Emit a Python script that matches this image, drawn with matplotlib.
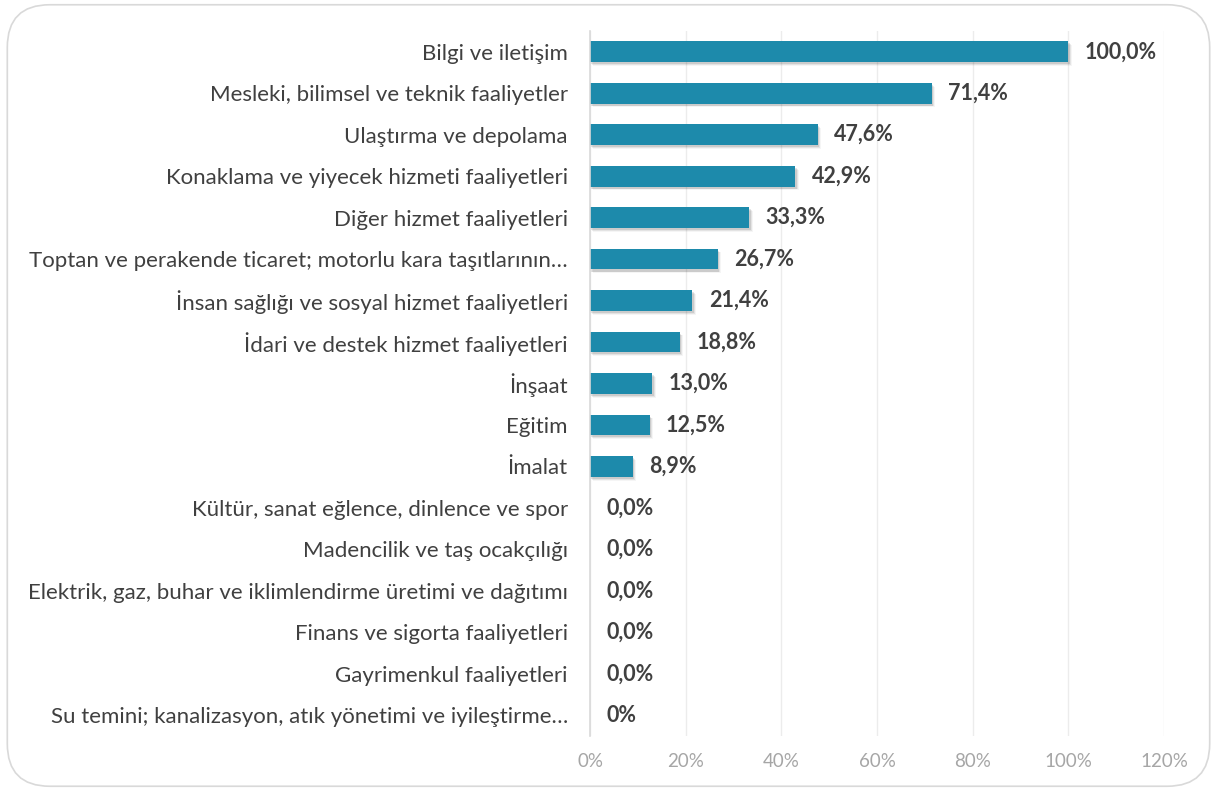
import numpy as np
import matplotlib.pyplot as plt
from matplotlib.patches import FancyBboxPatch

categories = [
    "Bilgi ve iletişim",
    "Mesleki, bilimsel ve teknik faaliyetler",
    "Ulaştırma ve depolama",
    "Konaklama ve yiyecek hizmeti faaliyetleri",
    "Diğer hizmet faaliyetleri",
    "Toptan ve perakende ticaret; motorlu kara taşıtlarının…",
    "İnsan sağlığı ve sosyal hizmet faaliyetleri",
    "İdari ve destek hizmet faaliyetleri",
    "İnşaat",
    "Eğitim",
    "İmalat",
    "Kültür, sanat eğlence, dinlence ve spor",
    "Madencilik ve taş ocakçılığı",
    "Elektrik, gaz, buhar ve iklimlendirme üretimi ve dağıtımı",
    "Finans ve sigorta faaliyetleri",
    "Gayrimenkul faaliyetleri",
    "Su temini; kanalizasyon, atık yönetimi ve iyileştirme…",
]
values = [100.0, 71.4, 47.6, 42.9, 33.3, 26.7, 21.4, 18.8, 13.0, 12.5, 8.9,
          0.0, 0.0, 0.0, 0.0, 0.0, 0.0]
value_labels = ["100,0%", "71,4%", "47,6%", "42,9%", "33,3%", "26,7%", "21,4%",
                "18,8%", "13,0%", "12,5%", "8,9%", "0,0%", "0,0%", "0,0%",
                "0,0%", "0,0%", "0%"]
xticks = [0, 20, 40, 60, 80, 100, 120]

plt.rcParams['font.family'] = ['Lato', 'DejaVu Sans']

fig = plt.figure(figsize=(12.17, 7.91), dpi=100, facecolor='white')
border = FancyBboxPatch((0.006, 0.006), 0.988, 0.988,
                        boxstyle="round,pad=0,rounding_size=0.035",
                        transform=fig.transFigure, facecolor='none',
                        edgecolor='#d9d9d9', linewidth=1.2, mutation_aspect=1.54,
                        zorder=10)
fig.patches.append(border)

ax = fig.add_axes([0.4848, 0.0695, 0.4717, 0.8913])
ax.set_facecolor('none')

y = np.arange(len(categories))
# soft shadow
for i, (dx, a) in enumerate([(0.6, 0.10), (1.0, 0.07), (1.4, 0.04)]):
    ax.barh(y + 0.05 + i * 0.02, values, left=dx * 0.5, height=0.5,
            color='black', alpha=a, linewidth=0, zorder=2)
ax.barh(y, values, height=0.5, color='#1d8aab', zorder=3)

for yi, v, lab in zip(y, values, value_labels):
    ax.text(v + 3.4, yi, lab, va='center', ha='left', fontsize=15.5,
            fontweight='bold', color='#404040', zorder=4)

ax.set_yticks(y)
ax.set_yticklabels(categories, fontsize=16, color='#404040')
ax.set_ylim(len(categories) - 0.5, -0.5)
ax.set_xlim(0, 120)
ax.set_xticks(xticks)
ax.set_xticklabels([f"{t}%" for t in xticks], fontsize=13.5, color='#a6a6a6')
ax.tick_params(axis='both', length=0)
ax.tick_params(axis='y', pad=16)
ax.tick_params(axis='x', pad=12)
ax.grid(axis='x', color='#ececec', linewidth=1, zorder=0)
ax.set_axisbelow(True)
for s in ['top', 'right', 'bottom']:
    ax.spines[s].set_visible(False)
ax.spines['left'].set_color('#d9d9d9')
ax.spines['left'].set_linewidth(1.2)
ax.spines['left'].set_zorder(5)

fig.savefig('out.png', dpi=100)
